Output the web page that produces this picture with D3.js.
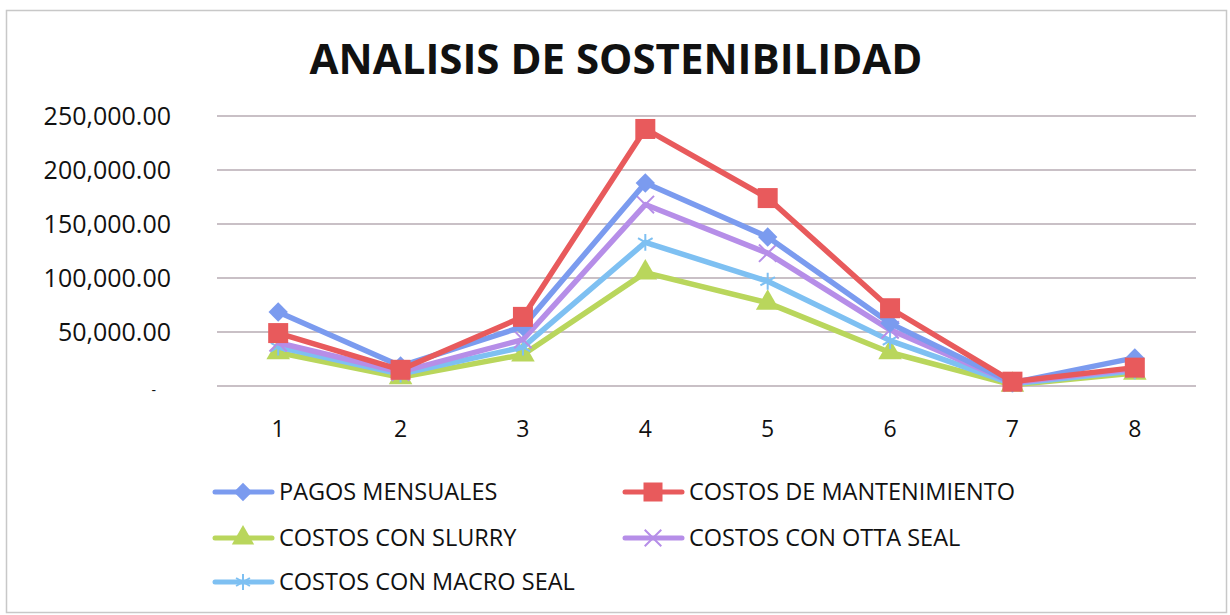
<!DOCTYPE html>
<html>
<head>
<meta charset="utf-8">
<script src="https://cdn.jsdelivr.net/npm/d3@7"></script>
<style>
  body { margin: 0; background: #fff; }
  text { font-family: "Open Sans", sans-serif; fill: #111; }
</style>
</head>
<body>
<div class="chart"></div>
<script>
// categories (periods) and the five series
var categories = [1, 2, 3, 4, 5, 6, 7, 8];
var pagosMensuales = [68500, 18500, 55000, 188000, 138000, 58000, 3000, 26000];
var costosMantenimiento = [49000, 15000, 64000, 238000, 174000, 72000, 4000, 17000];
var costosSlurry = [31000, 8000, 29000, 105000, 77000, 31000, 1000, 12000];
var costosOttaSeal = [40000, 13000, 43000, 168000, 123000, 52000, 3000, 16000];
var costosMacroSeal = [36000, 11000, 36000, 133000, 97000, 42000, 2000, 14000];
var yTicks = [0, 50000, 100000, 150000, 200000, 250000];

var series = [
  {name: "PAGOS MENSUALES", values: pagosMensuales, color: "#7b9bef", marker: "diamond"},
  {name: "COSTOS DE MANTENIMIENTO", values: costosMantenimiento, color: "#e85a5c", marker: "square"},
  {name: "COSTOS CON SLURRY", values: costosSlurry, color: "#b9d65c", marker: "triangle"},
  {name: "COSTOS CON OTTA SEAL", values: costosOttaSeal, color: "#b68ee8", marker: "x"},
  {name: "COSTOS CON MACRO SEAL", values: costosMacroSeal, color: "#7ec0f2", marker: "star"}
];

var W = 1230, H = 615;
var svg = d3.select(".chart").append("svg").attr("width", W).attr("height", H);

// outer border
svg.append("rect").attr("x", 6.5).attr("y", 10.5).attr("width", 1220).attr("height", 602)
  .attr("fill", "#fff").attr("stroke", "#c8c8c8").attr("stroke-width", 1.5);

// title
svg.append("text").attr("x", 616).attr("y", 74).attr("text-anchor", "middle")
  .style("font-size", "42px").style("font-weight", "bold").text("ANALISIS DE SOSTENIBILIDAD");

var plotLeft = 217, plotRight = 1196, plotTop = 116, plotBottom = 386;

var x = d3.scaleBand().domain(categories).range([plotLeft, plotRight]);
var y = d3.scaleLinear().domain([0, 250000]).range([plotBottom, plotTop]);

// gridlines
svg.append("g").selectAll("line").data(yTicks).enter().append("line")
  .attr("x1", plotLeft).attr("x2", plotRight)
  .attr("y1", function(d) { return y(d); }).attr("y2", function(d) { return y(d); })
  .attr("stroke", "#c9c0c6").attr("stroke-width", 2);

// y axis labels
var yAxis = d3.axisLeft(y).tickValues(yTicks).tickSize(0).tickPadding(0)
  .tickFormat(function(d) { return d === 0 ? "-" : d3.format(",.2f")(d); });
var yAxisGroup = svg.append("g").attr("transform", "translate(171,0)").call(yAxis);
yAxisGroup.select(".domain").remove();
yAxisGroup.selectAll("text").style("font-size", "25px").style("font-family", "'Open Sans', sans-serif").attr("fill", "#111");
yAxisGroup.selectAll(".tick").filter(function(d) { return d === 0; }).select("text")
  .attr("x", -15).attr("dy", "0.6em").style("font-size", "14px");

// x axis labels
var xAxis = d3.axisBottom(x).tickSize(0).tickPadding(0);
var xAxisGroup = svg.append("g").attr("transform", "translate(0,421)").call(xAxis);
xAxisGroup.select(".domain").remove();
xAxisGroup.selectAll("text").style("font-size", "23px").style("font-family", "'Open Sans', sans-serif").attr("fill", "#111");

var cx = function(i) { return x(categories[i]) + x.bandwidth() / 2; };

var line = d3.line()
  .x(function(d, i) { return cx(i); })
  .y(function(d) { return y(d); });

function drawMarker(g, type, color, px, py, s) {
  if (type === "diamond") {
    g.append("path").attr("d", d3.symbol(d3.symbolDiamond2, s * s * 0.6)())
      .attr("transform", "translate(" + px + "," + py + ")").attr("fill", color);
  } else if (type === "square") {
    g.append("rect").attr("x", px - s / 2).attr("y", py - s / 2).attr("width", s).attr("height", s)
      .attr("fill", color);
  } else if (type === "triangle") {
    g.append("path").attr("d", d3.symbol(d3.symbolTriangle, s * s * 0.6)())
      .attr("transform", "translate(" + px + "," + py + ")").attr("fill", color);
  } else if (type === "x") {
    g.append("path").attr("d", d3.symbol(d3.symbolX, s * s * 0.5)())
      .attr("transform", "translate(" + px + "," + py + ")")
      .attr("fill", "none").attr("stroke", color).attr("stroke-width", 2);
  } else if (type === "star") {
    g.append("path").attr("d", d3.symbol(d3.symbolAsterisk, s * s * 0.5)())
      .attr("transform", "translate(" + px + "," + py + ")")
      .attr("fill", "none").attr("stroke", color).attr("stroke-width", 2);
  }
}

// series lines with markers, drawn so the red series ends up on top
var drawOrder = [2, 4, 3, 0, 1];
drawOrder.forEach(function(k) {
  var s = series[k];
  var g = svg.append("g");
  g.append("path").datum(s.values).attr("d", line)
    .attr("fill", "none").attr("stroke", s.color).attr("stroke-width", 5.5)
    .attr("stroke-linejoin", "round");
  s.values.forEach(function(v, i) {
    drawMarker(g, s.marker, s.color, cx(i), y(v), 20);
  });
});

// legend
var legendPos = [
  [215, 492], [625, 492],
  [215, 538], [625, 538],
  [215, 582]
];
series.forEach(function(s, i) {
  var p = legendPos[i];
  var g = svg.append("g");
  g.append("line").attr("x1", p[0]).attr("x2", p[0] + 57).attr("y1", p[1]).attr("y2", p[1])
    .attr("stroke", s.color).attr("stroke-width", 5).attr("stroke-linecap", "round");
  drawMarker(g, s.marker, s.color, p[0] + 28, p[1], 19);
  g.append("text").attr("x", p[0] + 64).attr("y", p[1] + 8)
    .style("font-size", "23.5px").text(s.name);
});
</script>
</body>
</html>
